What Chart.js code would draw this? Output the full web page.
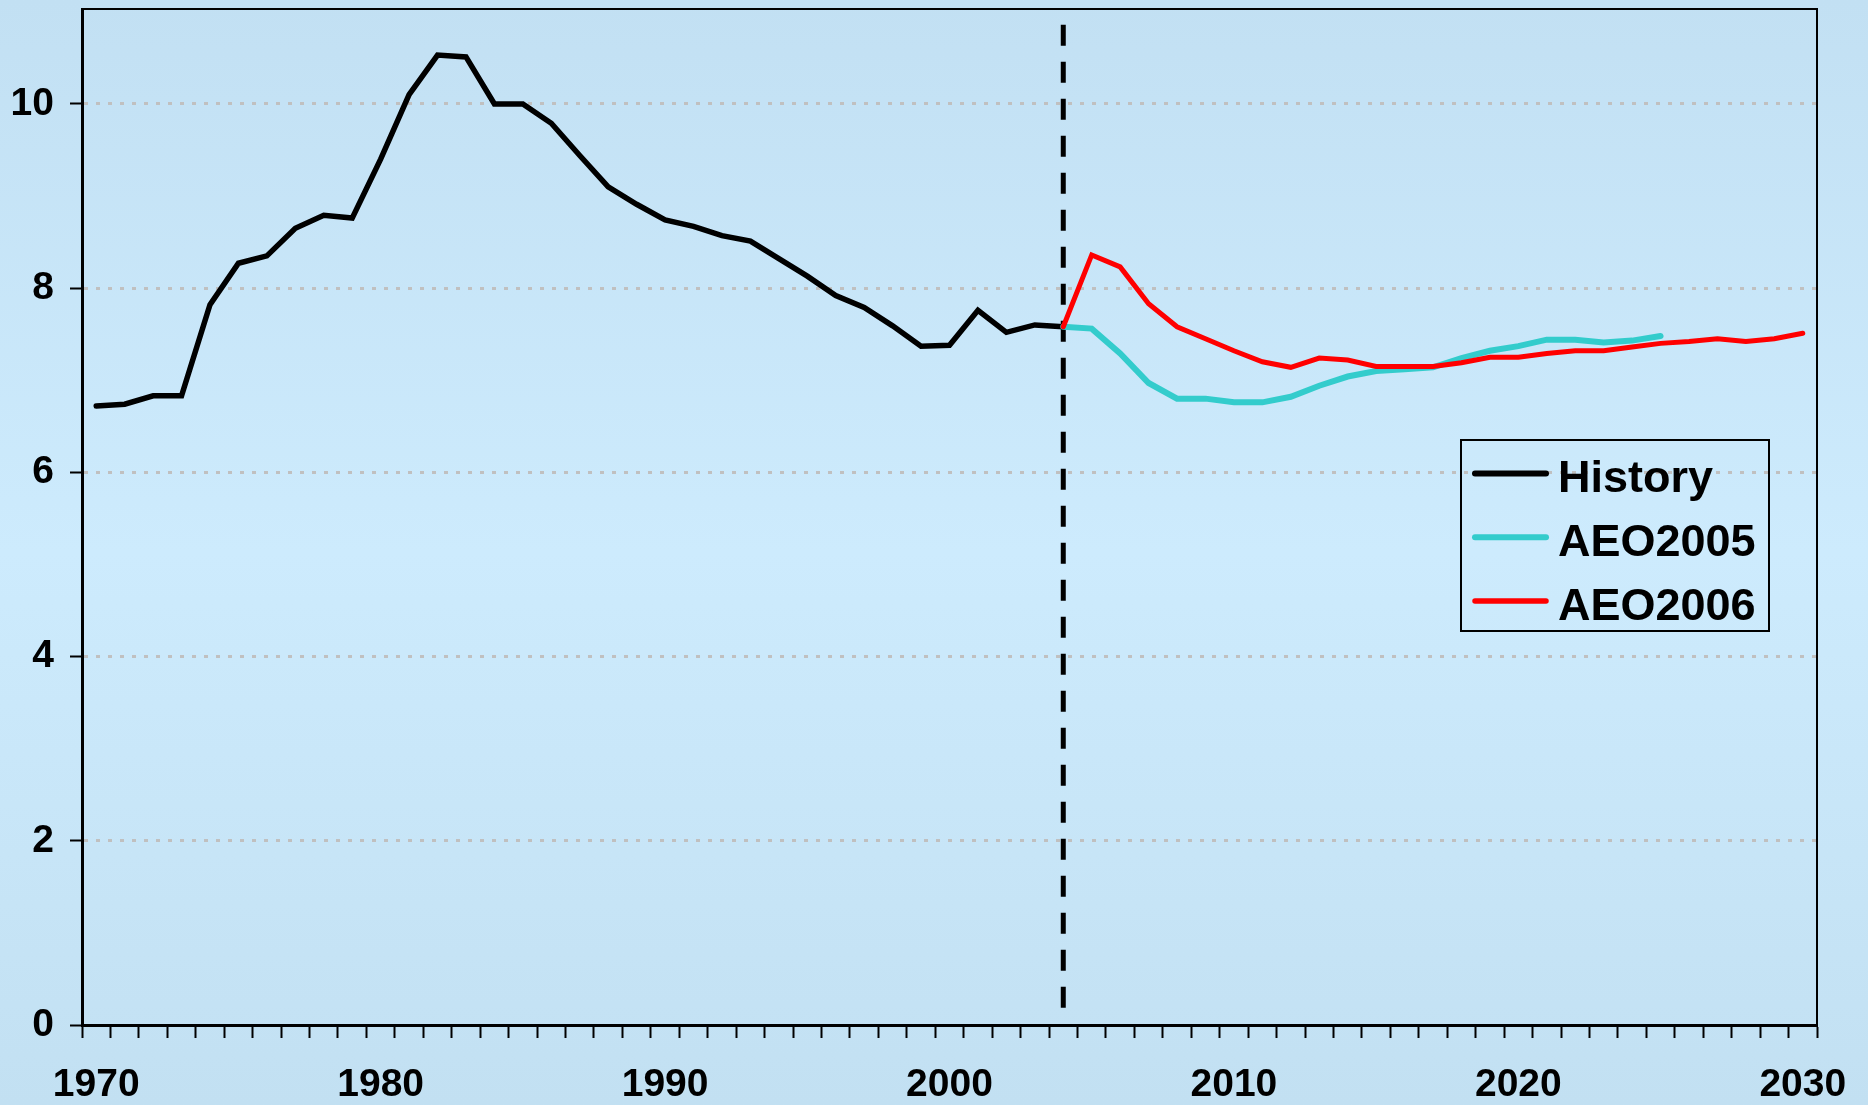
<!DOCTYPE html>
<html>
<head>
<meta charset="utf-8">
<title>History, AEO2005 and AEO2006</title>
<script src="https://cdn.jsdelivr.net/npm/chart.js@4.4.1/dist/chart.umd.min.js"></script>
<style>
  html, body { margin: 0; padding: 0; background: #c6e4f6; overflow: hidden; }
  canvas { display: block; }
</style>
</head>
<body>
<canvas id="aeo-chart" width="1868" height="1105"></canvas>
<script>
// categories on the x axis
const years = [
    1970, 1971, 1972, 1973, 1974, 1975, 1976, 1977, 1978, 1979,
    1980, 1981, 1982, 1983, 1984, 1985, 1986, 1987, 1988, 1989,
    1990, 1991, 1992, 1993, 1994, 1995, 1996, 1997, 1998, 1999,
    2000, 2001, 2002, 2003, 2004, 2005, 2006, 2007, 2008, 2009,
    2010, 2011, 2012, 2013, 2014, 2015, 2016, 2017, 2018, 2019,
    2020, 2021, 2022, 2023, 2024, 2025, 2026, 2027, 2028, 2029,
    2030
];
const yearLabels = [1970, 1980, 1990, 2000, 2010, 2020, 2030];
const yTicks = [0, 2, 4, 6, 8, 10];

// History 1970 - 2004
const historyStart = 1970;
const historyValues = [
    6.72, 6.74, 6.83, 6.83, 7.82, 8.27, 8.35, 8.65, 8.79, 8.76,
    9.40, 10.10, 10.53, 10.51, 10.00, 10.00, 9.79, 9.44, 9.10, 8.91,
    8.74, 8.67, 8.57, 8.51, 8.32, 8.13, 7.92, 7.79, 7.59, 7.37,
    7.38, 7.76, 7.52, 7.60, 7.58
];

// AEO2005 2004 - 2025
const aeo2005Start = 2004;
const aeo2005Values = [
    7.58, 7.56, 7.29, 6.97, 6.80, 6.80, 6.76, 6.76, 6.82, 6.94,
    7.04, 7.10, 7.12, 7.14, 7.24, 7.32, 7.37, 7.44, 7.44, 7.41,
    7.43, 7.48
];

// AEO2006 2004 - 2030
const aeo2006Start = 2004;
const aeo2006Values = [
    7.58, 8.36, 8.23, 7.83, 7.58, 7.45, 7.32, 7.20, 7.14, 7.24,
    7.22, 7.15, 7.15, 7.15, 7.19, 7.25, 7.25, 7.29, 7.32, 7.32,
    7.36, 7.40, 7.42, 7.45, 7.42, 7.45, 7.51
];

// vertical dashed divider between history and projections
const dividerYear = 2004;
const dividerRange = [10.86, 0.1];

function toPoints(start, values) {
    return values.map((v, i) => ({ x: String(start + i), y: v }));
}

const chartCanvas = document.getElementById('aeo-chart').getContext('2d');

const backdrop = {
    id: 'backdrop',
    beforeDraw(chart) {
        const ctx = chart.ctx;
        const grad = ctx.createLinearGradient(0, 0, 0, chart.height);
        grad.addColorStop(0, '#c2e0f3');
        grad.addColorStop(0.5, '#cdebfd');
        grad.addColorStop(1, '#c2e0f2');
        ctx.save();
        ctx.fillStyle = grad;
        ctx.fillRect(0, 0, chart.width, chart.height);
        ctx.restore();
    },
    afterDraw(chart) {
        const ctx = chart.ctx;
        const area = chart.chartArea;
        ctx.save();
        // thin frame on top and right
        ctx.strokeStyle = '#000';
        ctx.lineWidth = 2;
        ctx.beginPath();
        ctx.moveTo(area.left, area.top);
        ctx.lineTo(area.right, area.top);
        ctx.lineTo(area.right, area.bottom);
        ctx.stroke();

        // legend box
        const box = { x: 1461, y: 440, w: 308, h: 191 };
        ctx.lineWidth = 2;
        ctx.strokeRect(box.x, box.y, box.w, box.h);
        const items = chart.data.datasets.filter(d => d.inLegend);
        ctx.font = 'bold 45px "Liberation Sans", Arial, sans-serif';
        ctx.textBaseline = 'middle';
        ctx.textAlign = 'left';
        items.forEach((d, i) => {
            const rowY = box.y + 33.5 + i * 63.7;
            ctx.strokeStyle = d.borderColor;
            ctx.lineWidth = d.legendWidth;
            ctx.lineCap = 'round';
            ctx.beginPath();
            ctx.moveTo(box.x + 14, rowY);
            ctx.lineTo(box.x + 85, rowY);
            ctx.stroke();
            ctx.fillStyle = '#000';
            ctx.fillText(d.label, box.x + 97, rowY + 6.5);
        });
        ctx.restore();
    }
};

const aeoData = {
    labels: years.map(String),
    datasets: [
        {
            label: 'History',
            inLegend: true,
            legendWidth: 6,
            data: toPoints(historyStart, historyValues),
            borderColor: '#000000',
            borderWidth: 5.5,
            order: 3
        },
        {
            label: 'AEO2005',
            inLegend: true,
            legendWidth: 6,
            data: toPoints(aeo2005Start, aeo2005Values),
            borderColor: '#33cccc',
            borderWidth: 6,
            order: 2
        },
        {
            label: 'AEO2006',
            inLegend: true,
            legendWidth: 5.5,
            data: toPoints(aeo2006Start, aeo2006Values),
            borderColor: '#ff0000',
            borderWidth: 5,
            order: 1
        },
        {
            label: 'divider',
            inLegend: false,
            data: dividerRange.map(v => ({ x: String(dividerYear), y: v })),
            borderColor: '#000000',
            borderWidth: 5,
            borderDash: [21, 16],
            borderCapStyle: 'butt',
            order: 4
        }
    ]
};

const tickFont = { family: '"Liberation Sans", Arial, sans-serif', size: 39, weight: 'bold' };

const aeoConfig = {
    type: 'line',
    data: aeoData,
    plugins: [backdrop],
    options: {
        responsive: false,
        animation: false,
        events: [],
        layout: { padding: { top: 9, right: 51, left: 0, bottom: 0 } },
        elements: {
            point: { radius: 0 },
            line: { tension: 0, fill: false, borderCapStyle: 'round', borderJoinStyle: 'miter' }
        },
        plugins: {
            legend: { display: false },
            tooltip: { enabled: false }
        },
        scales: {
            x: {
                type: 'category',
                offset: true,
                border: { color: '#000', width: 3 },
                grid: {
                    offset: true,
                    drawOnChartArea: false,
                    tickLength: 13,
                    tickColor: '#000',
                    tickWidth: 2
                },
                ticks: {
                    autoSkip: false,
                    maxRotation: 0,
                    padding: 24,
                    color: '#000',
                    font: tickFont,
                    callback: function(val) {
                        const yr = Number(this.getLabelForValue(val));
                        return yearLabels.includes(yr) ? String(yr) : '';
                    }
                },
                afterFit: function(scale) {
                    scale.height = 80;
                    scale.paddingLeft = 0;
                    scale.paddingRight = 0;
                }
            },
            y: {
                type: 'linear',
                min: 0,
                max: 11.03,
                border: { color: '#000', width: 3, dash: [4, 8] },
                grid: {
                    color: c => (c.tick && c.tick.value === 0) ? 'rgba(0,0,0,0)' : '#c0c0c0',
                    lineWidth: 3,
                    borderDash: [4, 8],
                    tickBorderDash: [],
                    tickLength: 12,
                    tickColor: '#000',
                    tickWidth: 2
                },
                afterBuildTicks: function(scale) {
                    scale.ticks = yTicks.map(v => ({ value: v }));
                },
                ticks: {
                    padding: 16,
                    color: '#000',
                    font: tickFont
                },
                afterFit: function(scale) {
                    scale.width = 82;
                    scale.paddingTop = 0;
                    scale.paddingBottom = 0;
                }
            }
        }
    }
};

const aeoChart = new Chart(chartCanvas, aeoConfig);
</script>
</body>
</html>
